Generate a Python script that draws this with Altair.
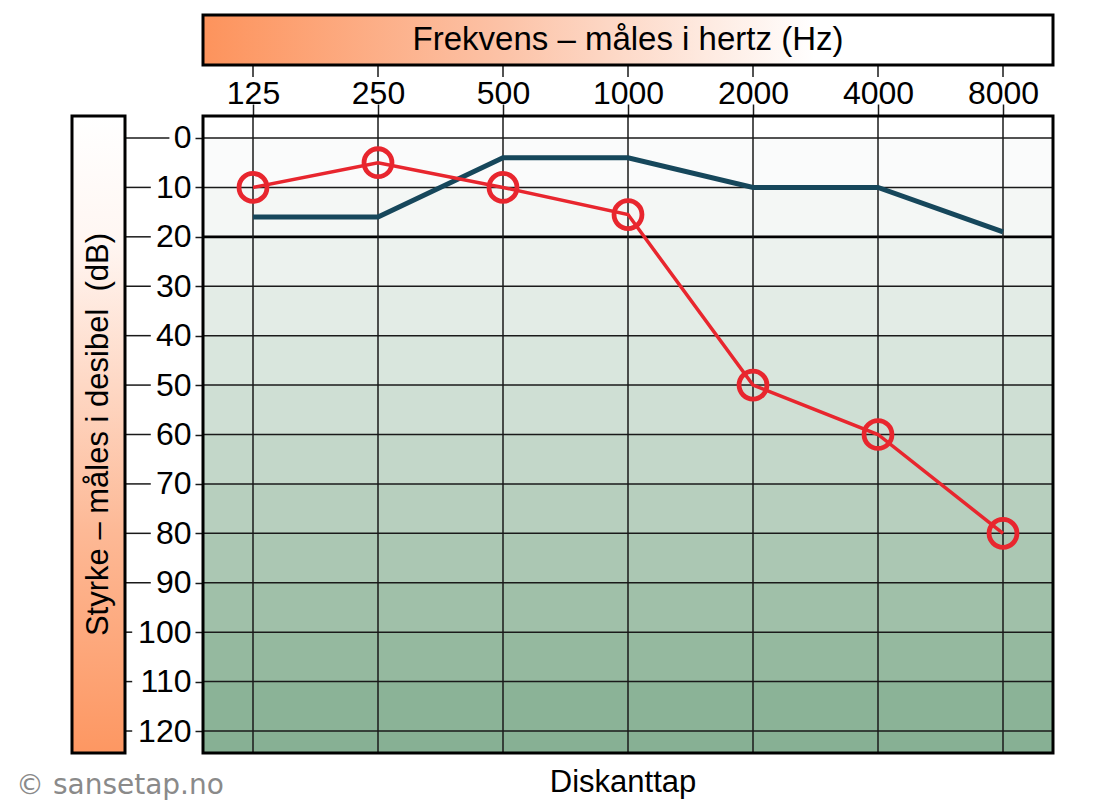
import json
import altair as alt
import pandas as pd

# ---------------- data ----------------
freqs = ["125", "250", "500", "1000", "2000", "4000", "8000"]
red_db = [10, 5, 10, 15.5, 50, 60, 80]        # measured thresholds (red circles)
dark_db = [16, 16, 4, 4, 10, 10, 19]          # dark reference curve
y_ticks = [0, 10, 20, 30, 40, 50, 60, 70, 80, 90, 100, 110, 120]
band_lo = [-10, 0, 10, 20, 30, 40, 50, 60, 70, 80, 90, 100, 110, 120]
band_col = ["#ffffff", "#fafbfb", "#f4f7f5", "#ecf2ee", "#e3ece6", "#d9e6dd",
            "#cfdfd4", "#c3d7c9", "#b7cfbe", "#abc7b3", "#a0c0a9", "#95b99f",
            "#8bb397", "#87b094"]

header_text = "Frekvens – måles i hertz (Hz)"
left_text = "Styrke – måles i desibel\u00a0\u00a0(dB)"
bottom_text = "Diskanttap"
credit_text = "© sansetap.no"

W, H = 850, 637
ARIAL = "Liberation Sans"

idx = list(range(len(freqs)))
curves = pd.DataFrame({"idx": idx, "freq": freqs, "red": red_db, "dark": dark_db})
bands = pd.DataFrame({"lo": band_lo,
                      "hi": band_lo[1:] + [band_lo[-1] + 20],
                      "col": band_col})
yt = pd.DataFrame({"v": y_ticks})
xt = pd.DataFrame({"idx": idx})
one = pd.DataFrame({"a": [0]})

xscale = alt.Scale(domain=[-0.4, 6.4], nice=False, zero=False)
yscale = alt.Scale(domain=[-4.45, 124.45], reverse=True, nice=False, zero=False)
label_expr = json.dumps(freqs) + "[datum.value]"

x_axis = alt.Axis(orient="top", title=None, values=idx, labelExpr=label_expr,
                  grid=False, domain=False, tickSize=12, tickWidth=1.5,
                  tickColor="#1a1a1a", labelFont=ARIAL, labelFontSize=32,
                  labelColor="black", labelBaseline="alphabetic", labelPadding=1)
y_axis = alt.Axis(orient="left", title=None, values=y_ticks, grid=False,
                  domain=False, tickSize=8, tickWidth=1.5, tickColor="#1a1a1a",
                  labelFont=ARIAL, labelFontSize=32, labelColor="black",
                  labelPadding=4)


def xq(field):
    return alt.X(field, type="quantitative", scale=xscale, axis=x_axis)


def yq(field):
    return alt.Y(field, type="quantitative", scale=yscale, axis=y_axis)


# background bands
bg = alt.Chart(bands).mark_rect(clip=True).encode(
    x=alt.value(0), x2=alt.value(W),
    y=yq("lo"), y2="hi:Q",
    color=alt.Color("col:N", scale=None),
)

# horizontal grid lines
hgrid = alt.Chart(yt).mark_rule(color="#1a1a1a", strokeWidth=1.5).encode(y=yq("v"))
h20 = alt.Chart(pd.DataFrame({"v": [20]})).mark_rule(color="black", strokeWidth=2.8).encode(
    y=yq("v"))

# vertical grid lines
vgrid = alt.Chart(xt).mark_rule(color="#1a1a1a", strokeWidth=1.5).encode(x=xq("idx"))
vtop = alt.Chart(xt).mark_rule(color="#1a1a1a", strokeWidth=1.5).encode(
    x=xq("idx"), y=alt.value(-51), y2=alt.value(-39))

# left tick segments between label box and labels
lseg = alt.Chart(yt).transform_calculate(
    xs="-78", xe="-15 - 18.6*length(toString(datum.v))"
).mark_rule(color="#1a1a1a", strokeWidth=1.5).encode(
    x=alt.X("xs:Q", scale=None), x2="xe:Q",
    y=yq("v"))

dark = alt.Chart(curves).mark_line(color="#16475b", strokeWidth=5).encode(
    x=xq("idx"), y=yq("dark"))
red = alt.Chart(curves).mark_line(color="#e8262e", strokeWidth=3.5).encode(
    x=xq("idx"), y=yq("red"))
redpts = alt.Chart(curves).mark_point(shape="circle", filled=False, color="#e8262e",
                                      size=780, strokeWidth=4.8, opacity=1).encode(
    x=xq("idx"), y=yq("red"))

frame = alt.Chart(one).mark_rect(fillOpacity=0, stroke="black", strokeWidth=3).encode(
    x=alt.value(0), x2=alt.value(W), y=alt.value(0), y2=alt.value(H))

header_grad = alt.LinearGradient(
    gradient="linear", x1=0, x2=1, y1=0, y2=0,
    stops=[alt.GradientStop(color="#fd935c", offset=0),
           alt.GradientStop(color="#fcc2a6", offset=0.35),
           alt.GradientStop(color="#ffffff", offset=0.72),
           alt.GradientStop(color="#ffffff", offset=1)])
header = alt.Chart(one).mark_rect(fill=header_grad, stroke="black", strokeWidth=3).encode(
    x=alt.value(0), x2=alt.value(W), y=alt.value(-101), y2=alt.value(-51))
header_t = alt.Chart(one).mark_text(text=header_text, font=ARIAL, fontSize=33,
                                    color="black", baseline="middle").encode(
    x=alt.value(W / 2), y=alt.value(-76))

left_grad = alt.LinearGradient(
    gradient="linear", x1=0, x2=0, y1=0, y2=1,
    stops=[alt.GradientStop(color="#ffffff", offset=0),
           alt.GradientStop(color="#fff6f2", offset=0.2),
           alt.GradientStop(color="#fdb996", offset=0.65),
           alt.GradientStop(color="#fd9762", offset=1)])
leftbox = alt.Chart(one).mark_rect(fill=left_grad, stroke="black", strokeWidth=3).encode(
    x=alt.value(-131), x2=alt.value(-78), y=alt.value(0), y2=alt.value(H))
left_t = alt.Chart(one).mark_text(text=left_text, font=ARIAL, fontSize=31, angle=270,
                                  color="black", baseline="middle").encode(
    x=alt.value(-104), y=alt.value(H / 2))

bottom_t = alt.Chart(one).mark_text(text=bottom_text, font=ARIAL, fontSize=31,
                                    color="black", baseline="alphabetic").encode(
    x=alt.value(W / 2 - 5), y=alt.value(676))
credit_t = alt.Chart(one).mark_text(text=credit_text, font="DejaVu Sans", fontSize=28,
                                    color="#8a8a8a", align="left",
                                    baseline="alphabetic").encode(
    x=alt.value(-187), y=alt.value(678))

chart = alt.layer(
    bg, hgrid, h20, vgrid, vtop, lseg, dark, red, redpts, frame,
    header, header_t, leftbox, left_t, bottom_t, credit_t,
).properties(
    width=W, height=H,
    autosize=alt.AutoSizeParams(type="none"),
    padding={"left": 195, "top": 108, "right": 47, "bottom": 48},
    background="white",
).configure_view(stroke=None)

chart.save("out.html", embed_options={"renderer": "svg", "actions": False})
